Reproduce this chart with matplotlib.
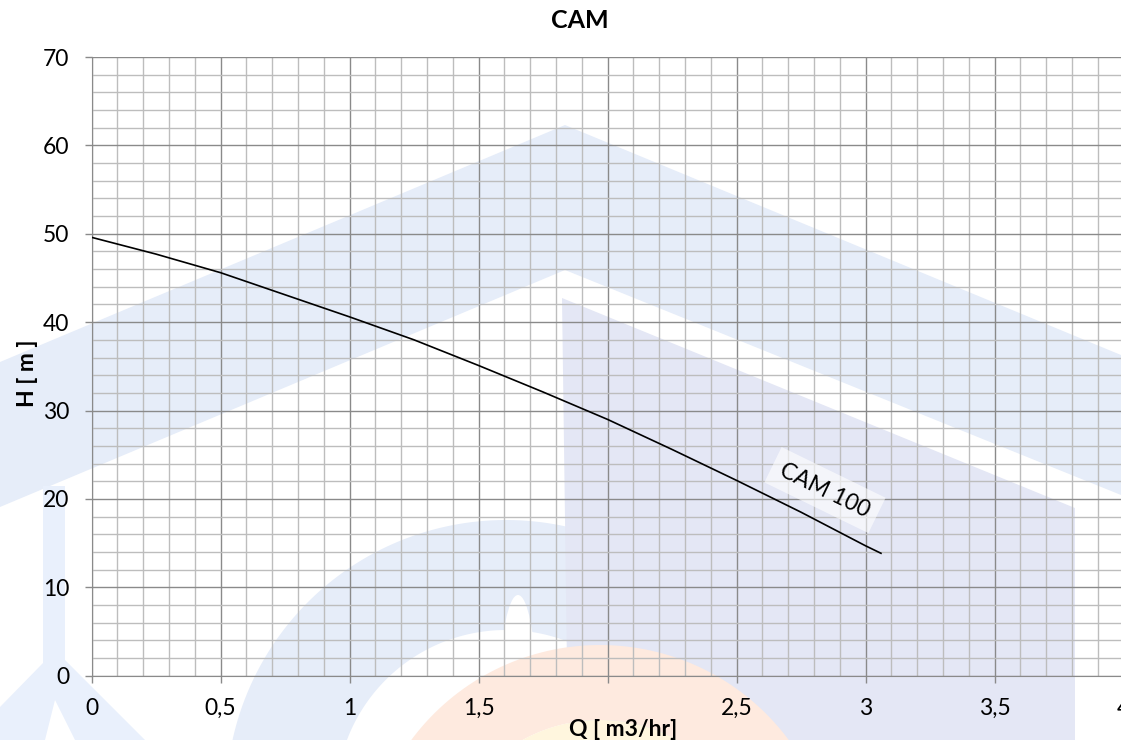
import numpy as np
import matplotlib.pyplot as plt
from matplotlib.patches import Polygon, Ellipse

plt.rcParams['font.family'] = ['Lato', 'DejaVu Sans']

# pump curve CAM 100
q = [0, 0.25, 0.5, 0.75, 1.0, 1.25, 1.5, 1.75, 2.0, 2.25, 2.5, 2.75, 3.0, 3.06]
h = [49.6, 47.7, 45.6, 43.1, 40.6, 38.0, 35.1, 32.1, 29.0, 25.6, 22.1, 18.5, 14.7, 13.85]

x_ticks = [0, 0.5, 1, 1.5, 2, 2.5, 3, 3.5, 4]
x_labels = ['0', '0,5', '1', '1,5', '', '2,5', '3', '3,5', '4']  # "2" hidden behind axis title
y_ticks = [0, 10, 20, 30, 40, 50, 60, 70]

W, H = 1121, 740
fig = plt.figure(figsize=(W / 100, H / 100), dpi=100)
fig.patch.set_facecolor('white')


def ring(cx, cy, r_out, r_in, a0, a1, n=120):
    t = np.radians(np.linspace(a0, a1, n))
    outer = np.column_stack([cx + r_out * np.cos(t), cy - r_out * np.sin(t)])
    inner = np.column_stack([cx + r_in * np.cos(t[::-1]), cy - r_in * np.sin(t[::-1])])
    return np.vstack([outer, inner])


# faint logo watermark behind the grid (pixel coords, y down)
wm = fig.add_axes([0, 0, 1, 1], zorder=-1)
wm.set_xlim(0, W)
wm.set_ylim(H, 0)
wm.axis('off')
blue = '#e6edf9'
lav = '#e4e7f5'
wm.add_patch(Polygon(ring(506, 800, 280, 170, 60, 200), closed=True, fc=blue, ec='none'))
wm.add_patch(Polygon([(0, 362), (565, 125), (1121, 355), (1121, 495), (565, 270), (0, 507)],
                     closed=True, fc=blue, ec='none'))
wm.add_patch(Polygon([(562, 298), (1075, 508), (1075, 740), (568, 740)], closed=True, fc=lav, ec='none'))
wm.add_patch(Polygon([(43, 486), (65, 486), (65, 660), (145, 740), (75, 740), (55, 700),
                      (45, 740), (0, 740), (0, 707), (43, 663)], closed=True, fc='#e9f0fc', ec='none'))
wm.add_patch(Ellipse((518, 690), 36, 190, fc='white', ec='none'))
wm.add_patch(Polygon(ring(600, 880, 235, 160, 0, 180), closed=True, fc='#feeadf', ec='none'))
wm.add_patch(Ellipse((600, 880), 320, 320, fc='#fff6de', ec='none'))

ax = fig.add_axes([91.5 / W, 64.3 / H, 1032 / W, 618.7 / H])
ax.set_facecolor('none')
ax.set_xlim(0, 4)
ax.set_ylim(0, 70)

ax.set_xticks(x_ticks)
ax.set_xticklabels(x_labels)
ax.set_yticks(y_ticks)
ax.set_xticks(np.arange(0, 4.01, 0.1), minor=True)
ax.set_yticks(np.arange(0, 70.1, 2), minor=True)
ax.grid(which='minor', color='#bdbdbd', lw=1.0)
ax.grid(which='major', color='#8a8a8a', lw=1.0)
ax.set_axisbelow(True)
ax.tick_params(which='major', length=5, width=1, color='#8a8a8a', labelsize=16.5, pad=11)
ax.tick_params(which='minor', length=0)

for side in ['top', 'right']:
    ax.spines[side].set_visible(False)
for side in ['left', 'bottom']:
    ax.spines[side].set_color('#8a8a8a')

ax.plot(q, h, color='black', lw=1.2, zorder=3)
ax.text(2.843, 21.0, 'CAM 100', rotation=-26, rotation_mode='anchor', ha='center', va='center',
        fontsize=16.5, zorder=4,
        bbox=dict(boxstyle='square,pad=0.4', fc='white', ec='none', alpha=0.6))

fig.text(579.5 / W, 1 - 21 / H, 'CAM', ha='center', va='center', fontsize=18, fontweight='bold')
fig.text(623.5 / W, 1 - 729 / H, 'Q [ m3/hr]', ha='center', va='center', fontsize=16.5, fontweight='bold')
fig.text(28 / W, 1 - 373 / H, 'H [ m ]', ha='center', va='center', rotation=90,
         fontsize=16.5, fontweight='bold')

fig.savefig('out.png', dpi=100)
